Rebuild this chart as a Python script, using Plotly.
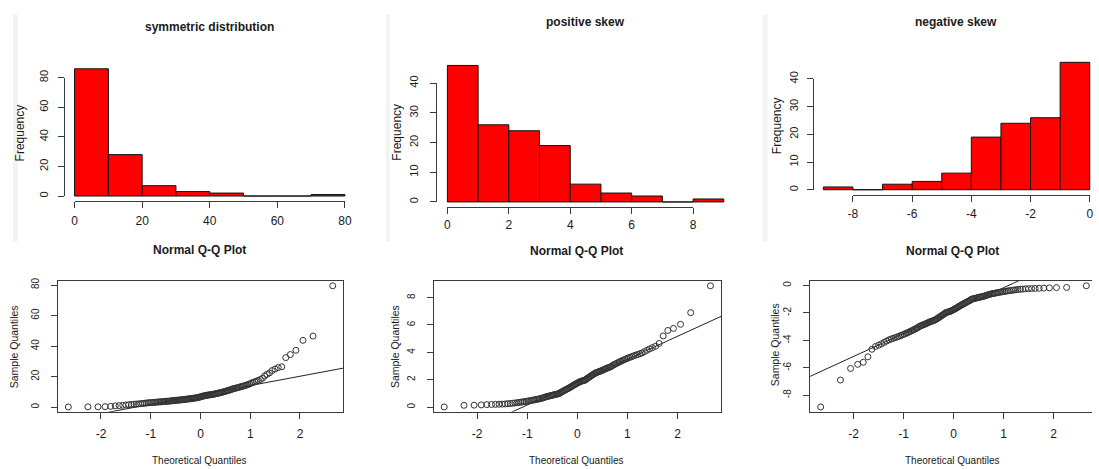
import numpy as np
import plotly.graph_objects as go
from statistics import NormalDist

W, H = 1099, 469

# ---------------- data ----------------
sym_edges = [0, 10, 20, 30, 40, 50, 60, 70, 80]
sym_counts = [86, 28, 7, 3, 2, 0, 0, 1]

pos_edges = [0, 1, 2, 3, 4, 5, 6, 7, 8, 9]
pos_counts = [46, 26, 24, 19, 6, 3, 2, 0, 1]

neg_edges = [-9, -8, -7, -6, -5, -4, -3, -2, -1, 0]
neg_counts = [1, 0, 2, 3, 6, 19, 24, 26, 46]

# sorted sample values
sym_sample = [
    0.2, 0.3, 0.3, 0.4, 0.6, 0.9, 1.1, 1.3, 1.5, 1.7,
    1.8, 2.0, 2.1, 2.2, 2.4, 2.5, 2.6, 2.8, 2.9, 3.0,
    3.1, 3.1, 3.2, 3.3, 3.4, 3.5, 3.5, 3.6, 3.7, 3.8,
    3.8, 3.9, 4.0, 4.0, 4.1, 4.2, 4.3, 4.4, 4.5, 4.6,
    4.6, 4.7, 4.7, 4.8, 4.9, 5.0, 5.0, 5.1, 5.2, 5.3,
    5.4, 5.5, 5.5, 5.6, 5.7, 5.8, 5.9, 6.0, 6.1, 6.2,
    6.3, 6.5, 6.6, 6.8, 7.0, 7.2, 7.4, 7.5, 7.6, 7.8,
    7.9, 8.0, 8.1, 8.2, 8.3, 8.4, 8.5, 8.7, 8.8, 9.0,
    9.1, 9.3, 9.4, 9.6, 9.8, 9.9,
    10.2, 10.4, 10.6, 10.8, 11.0, 11.3, 11.5, 11.8, 12.1, 12.3,
    12.5, 12.7, 12.9, 13.2, 13.4, 13.7, 13.9, 14.2, 14.5, 14.9,
    15.3, 15.8, 16.2, 16.7, 17.1, 17.6, 18.2, 19.0,
    20.5, 21.5, 22.5, 24.0, 25.0, 26.0, 26.5,
    32.5, 34.5, 37.3,
    43.8, 46.6, 79.5,
]

pos_sample = [
    0.02, 0.14, 0.15, 0.17, 0.19, 0.20, 0.21, 0.22, 0.23, 0.24,
    0.26, 0.27, 0.29, 0.31, 0.33, 0.35, 0.37, 0.39, 0.41, 0.43,
    0.45, 0.47, 0.49, 0.51, 0.53, 0.55, 0.57, 0.59, 0.61, 0.63,
    0.66, 0.69, 0.72, 0.75, 0.78, 0.80, 0.82, 0.84, 0.86, 0.88,
    0.90, 0.92, 0.94, 0.96, 0.98, 0.99,
    1.05, 1.10, 1.14, 1.18, 1.22, 1.26, 1.30, 1.34, 1.38, 1.42,
    1.46, 1.50, 1.55, 1.60, 1.64, 1.68, 1.72, 1.76, 1.80, 1.84,
    1.87, 1.90, 1.92, 1.94, 1.96, 1.98,
    2.05, 2.10, 2.15, 2.20, 2.25, 2.30, 2.35, 2.40, 2.45, 2.50,
    2.53, 2.56, 2.59, 2.62, 2.65, 2.68, 2.72, 2.76, 2.80, 2.84,
    2.87, 2.90, 2.94, 2.98,
    3.05, 3.10, 3.15, 3.20, 3.25, 3.30, 3.35, 3.40, 3.45, 3.50,
    3.55, 3.60, 3.65, 3.70, 3.75, 3.80, 3.85, 3.90, 3.96,
    4.05, 4.15, 4.25, 4.35, 4.45, 4.65,
    5.20, 5.60, 5.75,
    6.05, 6.90, 8.86,
]

neg_sample = [
    -8.86, -6.90, -6.05,
    -5.75, -5.60, -5.20,
    -4.65, -4.45, -4.35, -4.25, -4.15, -4.05,
    -3.96, -3.90, -3.85, -3.80, -3.75, -3.70, -3.65, -3.60, -3.55,
    -3.50, -3.45, -3.40, -3.35, -3.30, -3.25, -3.20, -3.15, -3.10, -3.05,
    -2.98, -2.94, -2.90, -2.87,
    -2.84, -2.80, -2.76, -2.72, -2.68, -2.65, -2.62, -2.59, -2.56, -2.53,
    -2.50, -2.45, -2.40, -2.35, -2.30, -2.25, -2.20, -2.15, -2.10, -2.05,
    -1.98, -1.96, -1.94, -1.92, -1.90, -1.87,
    -1.84, -1.80, -1.76, -1.72, -1.68, -1.64, -1.60, -1.55, -1.50, -1.46,
    -1.42, -1.38, -1.34, -1.30, -1.26, -1.22, -1.18, -1.14, -1.10, -1.05,
    -0.99, -0.98, -0.96, -0.94, -0.92, -0.90,
    -0.88, -0.86, -0.84, -0.82, -0.80, -0.78, -0.75, -0.72, -0.69, -0.66,
    -0.63, -0.61, -0.59, -0.57, -0.55, -0.53, -0.51, -0.49, -0.47, -0.45,
    -0.43, -0.41, -0.39, -0.37, -0.35, -0.33, -0.31, -0.29, -0.27, -0.26,
    -0.24, -0.23, -0.22, -0.21, -0.20, -0.19, -0.17, -0.15, -0.14, -0.02,
]

hist_titles = ["symmetric distribution", "positive skew", "negative skew"]
qq_title = "Normal Q-Q Plot"

hist_xticks = [[0, 20, 40, 60, 80], [0, 2, 4, 6, 8], [-8, -6, -4, -2, 0]]
hist_xticklabels = [["0", "20", "40", "60", "80"], ["0", "2", "4", "6", "8"],
                    ["-8", "-6", "-4", "-2", "0"]]
hist_yticks = [[0, 20, 40, 60, 80], [0, 10, 20, 30, 40], [0, 10, 20, 30, 40]]

qq_xticks = [-2, -1, 0, 1, 2]
qq_xticklabels = ["-2", "-1", "0", "1", "2"]
qq_yticks = [[0, 20, 40, 60, 80], [0, 2, 4, 6, 8], [0, -2, -4, -6, -8]]
qq_yticklabels = [["0", "20", "40", "60", "80"], ["0", "2", "4", "6", "8"],
                  ["0", "-2", "-4", "-6", "-8"]]

# ---------------- styling / geometry ----------------
FONT = "Liberation Sans, Arial, sans-serif"
TXT = "#1a1a1a"
LINE = "#3a3a3a"


def fx(p):
    return p / W


def fy(p):
    return 1 - p / H


def ext(lo, hi):
    d = 0.04 * (hi - lo)
    return [lo - d, hi + d]


fig = go.Figure()
layout = dict(
    width=W, height=H, margin=dict(l=0, r=0, t=0, b=0),
    paper_bgcolor="white", plot_bgcolor="rgba(0,0,0,0)",
    showlegend=False, annotations=[], shapes=[],
)

# faint panel separators from the original composite
for (x0, y0, x1, y1) in [(8, 7, 13, 238), (385, 7, 389, 238), (766, 7, 771, 238)]:
    layout["shapes"].append(dict(type="rect", xref="paper", yref="paper",
                                 x0=fx(x0), x1=fx(x1), y0=fy(y1), y1=fy(y0),
                                 line=dict(width=0), fillcolor="#f3f3f3", layer="below"))

hidden = dict(showline=False, showgrid=False, zeroline=False, showticklabels=False, ticks="")

# histogram panel boxes: left, right(full), top, bottom (pixels)
hist_boxes = [(59.4, 354.6, 56.8, 196.9), (436.1, 737.9, 53.0, 203.3), (816.6, 1107.5, 50.2, 190.5)]
hist_xstand = [2, 0, 2]
hist_ystand = [5, 8, 4]
hist_title_pos = [(206.7, 19), (586.7, 14.5), (961.7, 14)]
hist_ylab_pos = [(15, 127), (396.7, 126.7), (780, 120)]

hist_data = [(sym_edges, sym_counts), (pos_edges, pos_counts), (neg_edges, neg_counts)]

ax = 0
for k, (edges, counts) in enumerate(hist_data):
    left, right, top, bottom = hist_boxes[k]
    xr = ext(min(edges), max(edges))
    yr = ext(0, max(counts))
    if right > W:
        xr = [xr[0], xr[0] + (W - left) / (right - left) * (xr[1] - xr[0])]
        right = W
    ax += 1
    xa, ya = ax, ax
    e = np.array(edges, dtype=float)
    centers = (e[:-1] + e[1:]) / 2
    widths = e[1:] - e[:-1]
    fig.add_trace(go.Bar(x=centers, y=counts, width=widths,
                         marker=dict(color="#ff0000", line=dict(color="#111111", width=1)),
                         xaxis=f"x{xa}", yaxis=f"y{ya}", hoverinfo="skip"))
    layout[f"xaxis{xa}"] = dict(domain=[fx(left), fx(right)], range=xr, anchor=f"y{ya}", **hidden)
    layout[f"yaxis{ya}"] = dict(domain=[fy(bottom), fy(top)], range=yr, anchor=f"x{xa}", **hidden)

    def pxx(v):
        return left + (v - xr[0]) / (xr[1] - xr[0]) * (right - left)

    def pyy(v):
        return bottom - (v - yr[0]) / (yr[1] - yr[0]) * (bottom - top)

    # display axes (R style: axis line spans first..last tick only)
    ax += 1
    xd = ax
    xt = hist_xticks[k]
    layout[f"xaxis{xd}"] = dict(
        domain=[fx(pxx(xt[0])), fx(pxx(xt[-1]))], range=[xt[0], xt[-1]],
        anchor="free", position=fy(bottom), showline=True, linecolor=LINE, linewidth=1,
        ticks="outside", ticklen=6, tickcolor=LINE, tickwidth=1,
        tickvals=xt, ticktext=hist_xticklabels[k], showgrid=False, zeroline=False,
        tickfont=dict(family=FONT, size=12, color=TXT), ticklabelstandoff=hist_xstand[k])
    fig.add_trace(go.Scatter(x=[None], y=[None], xaxis=f"x{xd}", yaxis=f"y{ya}",
                             mode="markers", hoverinfo="skip"))
    ax += 1
    yd = ax
    yt = hist_yticks[k]
    layout[f"yaxis{yd}"] = dict(
        domain=[fy(pyy(yt[0])), fy(pyy(yt[-1]))], range=[yt[0], yt[-1]],
        anchor="free", position=fx(left), showline=True, linecolor=LINE, linewidth=1,
        ticks="outside", ticklen=6, tickcolor=LINE, tickwidth=1,
        tickvals=yt, ticktext=[str(v) for v in yt], tickangle=-90, showgrid=False, zeroline=False,
        tickfont=dict(family=FONT, size=11, color=TXT), ticklabelstandoff=hist_ystand[k])
    fig.add_trace(go.Scatter(x=[None], y=[None], xaxis=f"x{xa}", yaxis=f"y{yd}",
                             mode="markers", hoverinfo="skip"))

    tx, ty = hist_title_pos[k]
    layout["annotations"].append(dict(text=f"<b>{hist_titles[k]}</b>", x=fx(tx), y=fy(ty),
                                      xref="paper", yref="paper", showarrow=False,
                                      xanchor="center", yanchor="middle",
                                      font=dict(family=FONT, size=12, color=TXT)))
    lx, ly = hist_ylab_pos[k]
    layout["annotations"].append(dict(text="Frequency", x=fx(lx), y=fy(ly), textangle=-90,
                                      xref="paper", yref="paper", showarrow=False,
                                      xanchor="center", yanchor="middle",
                                      font=dict(family=FONT, size=12, color=TXT)))

# ---------------- Q-Q plots ----------------
qq_boxes = [(53.3, 342.0, 278.3, 411.7), (433.3, 724.0, 278.3, 411.7), (814.0, 1104.0, 278.3, 411.7)]
qq_title_pos = [(197, 246.5), (578, 248), (958.3, 248)]
qq_ylab_pos = [(9, 345), (395, 345), (778, 343.3)]
qq_xlab_pos = [(197, 461), (578, 461.7), (958, 461.7)]
qq_samples = [sym_sample, pos_sample, neg_sample]

nd = NormalDist()
for k, sample in enumerate(qq_samples):
    s = np.sort(np.array(sample, dtype=float))
    n = len(s)
    theo = np.array([nd.inv_cdf((i - 0.5) / n) for i in range(1, n + 1)])
    left, right, top, bottom = qq_boxes[k]
    xr = ext(theo.min(), theo.max())
    yr = ext(s.min(), s.max())
    full_xr = list(xr)
    if right > W:
        xr = [xr[0], xr[0] + (W - left) / (right - left) * (xr[1] - xr[0])]
        right = W
    ax += 1
    a = ax
    # qqline through the quartiles
    q1, q3 = np.quantile(s, [0.25, 0.75])
    t1, t3 = nd.inv_cdf(0.25), nd.inv_cdf(0.75)
    slope = (q3 - q1) / (t3 - t1)
    inter = q1 - slope * t1
    lx = np.array(full_xr)
    fig.add_trace(go.Scatter(x=lx, y=inter + slope * lx, mode="lines",
                             line=dict(color="#222222", width=1),
                             xaxis=f"x{a}", yaxis=f"y{a}", hoverinfo="skip"))
    fig.add_trace(go.Scatter(x=theo, y=s, mode="markers",
                             marker=dict(symbol="circle-open", size=6,
                                         line=dict(color="#333333", width=1), color="#333333"),
                             xaxis=f"x{a}", yaxis=f"y{a}", hoverinfo="skip", cliponaxis=False))
    layout[f"xaxis{a}"] = dict(
        domain=[fx(left), fx(right)], range=xr, anchor=f"y{a}",
        showline=True, mirror=True, linecolor=LINE, linewidth=1,
        ticks="outside", ticklen=6, tickcolor=LINE, tickvals=qq_xticks, ticktext=qq_xticklabels,
        showgrid=False, zeroline=False, tickfont=dict(family=FONT, size=12, color=TXT),
        ticklabelstandoff=5)
    layout[f"yaxis{a}"] = dict(
        domain=[fy(bottom), fy(top)], range=yr, anchor=f"x{a}",
        showline=True, mirror=(k < 2), linecolor=LINE, linewidth=1,
        ticks="outside", ticklen=6, tickcolor=LINE, tickvals=qq_yticks[k],
        ticktext=qq_yticklabels[k], tickangle=-90,
        showgrid=False, zeroline=False, tickfont=dict(family=FONT, size=10, color=TXT),
        ticklabelstandoff=8)

    tx, ty = qq_title_pos[k]
    layout["annotations"].append(dict(text=f"<b>{qq_title}</b>", x=fx(tx), y=fy(ty),
                                      xref="paper", yref="paper", showarrow=False,
                                      xanchor="center", yanchor="middle",
                                      font=dict(family=FONT, size=12, color=TXT)))
    px_, py_ = qq_ylab_pos[k]
    layout["annotations"].append(dict(text="Sample Quantiles", x=fx(px_), y=fy(py_), textangle=-90,
                                      xref="paper", yref="paper", showarrow=False,
                                      xanchor="center", yanchor="middle",
                                      font=dict(family=FONT, size=10.5, color=TXT)))
    bx, by = qq_xlab_pos[k]
    layout["annotations"].append(dict(text="Theoretical Quantiles", x=fx(bx), y=fy(by),
                                      xref="paper", yref="paper", showarrow=False,
                                      xanchor="center", yanchor="middle",
                                      font=dict(family=FONT, size=10, color=TXT)))

fig.update_layout(**layout)
fig.write_html("out.html")
